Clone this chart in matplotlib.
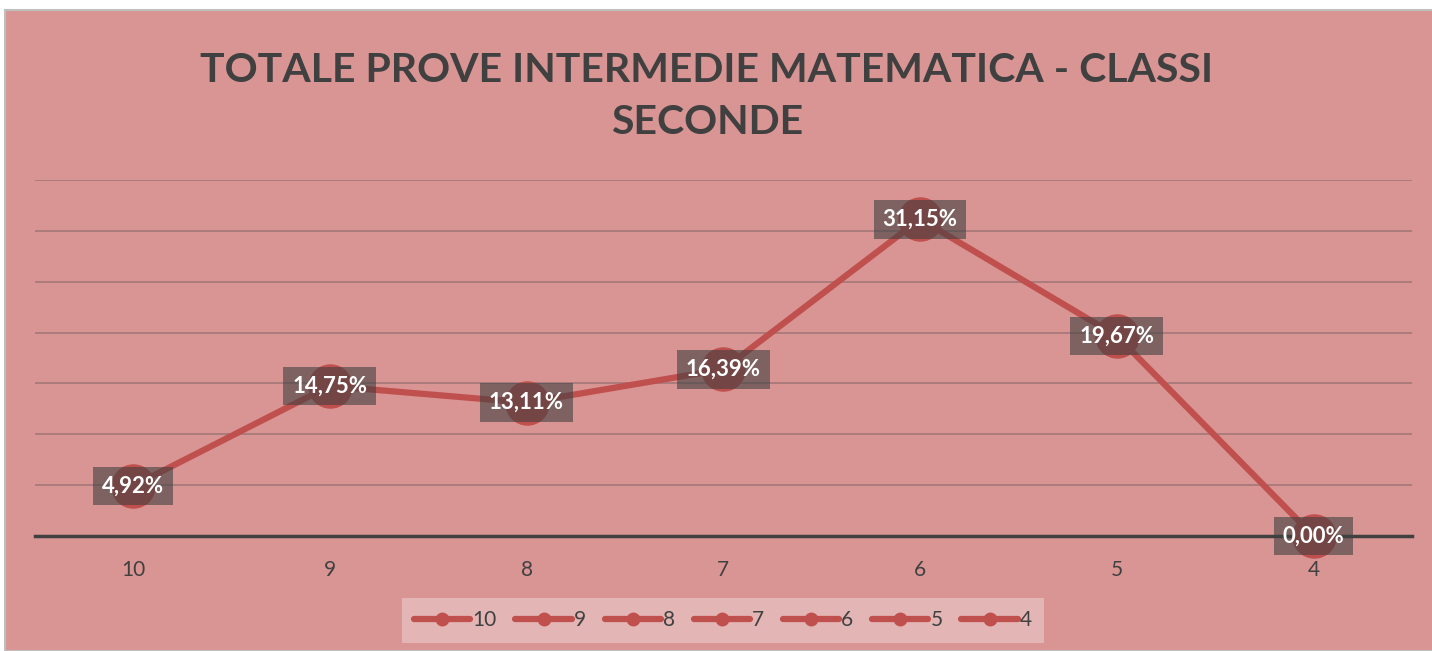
import matplotlib.pyplot as plt
from matplotlib.patches import Rectangle
from matplotlib.lines import Line2D

categories = ['10', '9', '8', '7', '6', '5', '4']
percentages = [4.92, 14.75, 13.11, 16.39, 31.15, 19.67, 0.00]

pink = '#d99594'
red = '#c0504d'
dark = '#404040'

plt.rcParams['font.family'] = ['Lato', 'DejaVu Sans']

fig = plt.figure(figsize=(14.32, 6.51), dpi=100, facecolor='white')
W, H = 1432, 651

# chart area with thin gray border
fig.patches.append(Rectangle((5 / W, 0), 1.0, (H - 10) / H, transform=fig.transFigure,
                             facecolor=pink, edgecolor='#bfbfbf', linewidth=1.5, zorder=-5))

ax = fig.add_axes([34.6 / W, 1 - 536 / H, (1412 - 34.6) / W, (536 - 180) / H])
ax.set_facecolor('none')

x = list(range(len(categories)))
ax.plot(x, percentages, color=red, linewidth=4.5, marker='o', markersize=31,
        markerfacecolor=red, markeredgecolor=red, clip_on=False, zorder=3)

for xi, v in zip(x, percentages):
    ax.text(xi, v, f'{v:.2f}%'.replace('.', ','), ha='center', va='center',
            fontsize=16, fontweight='bold', color='white', zorder=5,
            bbox=dict(boxstyle='square,pad=0.4', facecolor='#404040', alpha=0.6,
                      edgecolor='none'))

ax.set_xlim(-0.5, len(categories) - 0.5)
ax.set_ylim(0, 35)
ax.set_yticks(range(0, 36, 5))
ax.yaxis.grid(True, color='#a47878', linewidth=1.2)
ax.set_axisbelow(True)
ax.tick_params(axis='y', left=False, labelleft=False)
ax.tick_params(axis='x', length=0, pad=17, labelsize=15, labelcolor=dark)
ax.set_xticks(x)
ax.set_xticklabels(categories)
for side in ['top', 'left', 'right']:
    ax.spines[side].set_visible(False)
ax.spines['bottom'].set_color(dark)
ax.spines['bottom'].set_linewidth(2.5)
ax.spines['bottom'].set_zorder(2)

fig.text(707 / W, 1 - 96 / H, 'TOTALE PROVE INTERMEDIE MATEMATICA - CLASSI\nSECONDE',
         ha='center', va='center', fontsize=29.5, fontweight='bold', color=dark,
         linespacing=1.5)

handles = [Line2D([], [], color=red, linewidth=4.5, marker='o', markersize=9,
                  solid_capstyle='round') for _ in categories]
leg = fig.legend(handles, categories, loc='center', bbox_to_anchor=(723 / W, 1 - 620 / H),
                 ncol=len(categories), frameon=True, fancybox=False, fontsize=15,
                 handlelength=2.7, handletextpad=0.1, columnspacing=0.9,
                 borderpad=0.6, labelcolor=dark)
leg.get_frame().set_facecolor('#e3b5b5')
leg.get_frame().set_edgecolor('none')
leg.get_frame().set_alpha(1)

fig.savefig('out.png', dpi=100, facecolor=fig.get_facecolor())
